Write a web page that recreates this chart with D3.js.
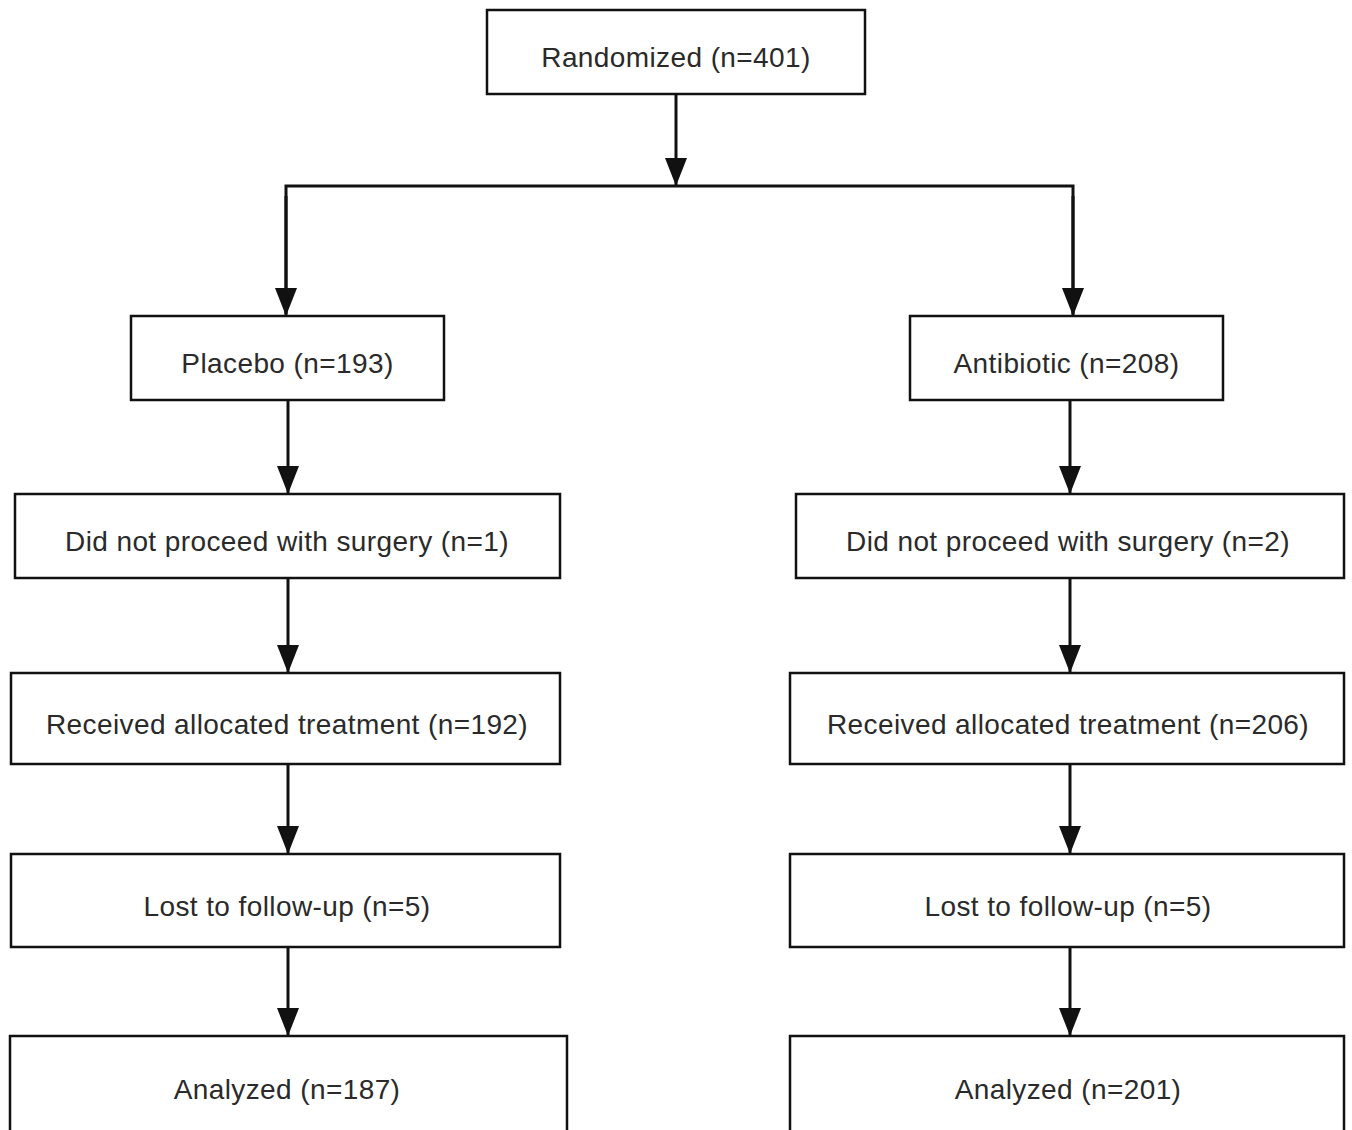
<!DOCTYPE html>
<html>
<head>
<meta charset="utf-8">
<script src="https://cdn.jsdelivr.net/npm/d3@7"></script>
<style>
  body { margin: 0; background: #fff; }
  svg { display: block; }
</style>
</head>
<body>
<svg></svg>
<script>
'use strict'

// data
const topLabel = 'Randomized'
const topN = 401
const armLabels = ['Placebo', 'Antibiotic']
const armN = [193, 208]
const stepLabels = ['Did not proceed with surgery', 'Received allocated treatment', 'Lost to follow-up', 'Analyzed']
const placeboN = [1, 192, 5, 187]
const antibioticN = [2, 206, 5, 201]

// layout
const width = 1352, height = 1130
const stroke = '#111'
const textColor = '#2a2a2a'
const fontSize = 28

// row tops / bottoms (row 0 = randomized, 1 = arms, 2..5 = steps)
const rowTop = [10, 316, 494, 673, 854, 1036]
const rowBottom = [94, 400, 578, 764, 947, 1132]
const splitY = 186

// box x extents per column, per row
const leftBox = [null, [131, 444], [15, 560], [11, 560], [11, 560], [10, 567]]
const rightBox = [null, [910, 1223], [796, 1344], [790, 1344], [790, 1344], [790, 1344]]
const topBox = [487, 865]
const colX = [288, 1070]
const arrowX = [[288, 1070], [288, 1070], [288, 1070], [288, 1070], [286, 1070]]

const svg = d3.select('svg')
  .attr('width', width)
  .attr('height', height)

svg.append('defs').append('marker')
  .attr('id', 'head')
  .attr('viewBox', '0 0 22 28')
  .attr('refX', 11)
  .attr('refY', 28)
  .attr('markerWidth', 22)
  .attr('markerHeight', 28)
  .attr('markerUnits', 'userSpaceOnUse')
  .attr('orient', 0)
  .append('path')
  .attr('d', 'M0,0 L22,0 L11,28 Z')
  .attr('fill', stroke)

const boxes = []
boxes.push({ x0: topBox[0], x1: topBox[1], y0: rowTop[0], y1: rowBottom[0], cx: 676, text: topLabel + ' (n=' + topN + ')' })
armLabels.forEach((l, i) => {
  const b = i === 0 ? leftBox[1] : rightBox[1]
  boxes.push({ x0: b[0], x1: b[1], y0: rowTop[1], y1: rowBottom[1], cx: (b[0] + b[1]) / 2, text: l + ' (n=' + armN[i] + ')' })
})
stepLabels.forEach((l, i) => {
  const r = i + 2
  boxes.push({ x0: leftBox[r][0], x1: leftBox[r][1], y0: rowTop[r], y1: rowBottom[r], cx: colX[0] - 1, text: l + ' (n=' + placeboN[i] + ')' })
  boxes.push({ x0: rightBox[r][0], x1: rightBox[r][1], y0: rowTop[r], y1: rowBottom[r], cx: colX[1] - 2, text: l + ' (n=' + antibioticN[i] + ')' })
})

const lines = svg.append('g')
  .attr('fill', 'none')
  .attr('stroke', stroke)
  .attr('stroke-width', 3)

// randomized -> split
lines.append('line')
  .attr('x1', 676).attr('y1', rowBottom[0])
  .attr('x2', 676).attr('y2', splitY)
  .attr('marker-end', 'url(#head)')

lines.append('path')
  .attr('d', 'M' + 286 + ',' + (rowTop[1] - 2) + 'V' + splitY + 'H' + 1073 + 'V' + (rowTop[1] - 2))

const splitArrows = [286, 1073]
splitArrows.forEach(x => {
  lines.append('line')
    .attr('x1', x).attr('y1', splitY + 10)
    .attr('x2', x).attr('y2', rowTop[1])
    .attr('marker-end', 'url(#head)')
})

for (let r = 1; r < rowTop.length - 1; r++) {
  arrowX[r - 1].forEach(x => {
    lines.append('line')
      .attr('x1', x).attr('y1', rowBottom[r])
      .attr('x2', x).attr('y2', rowTop[r + 1])
      .attr('marker-end', 'url(#head)')
  })
}

const g = svg.append('g')
  .selectAll('g')
  .data(boxes)
  .join('g')

g.append('rect')
  .attr('x', d => d.x0)
  .attr('y', d => d.y0)
  .attr('width', d => d.x1 - d.x0)
  .attr('height', d => d.y1 - d.y0)
  .attr('fill', '#fff')
  .attr('stroke', stroke)
  .attr('stroke-width', 2.5)

g.append('text')
  .attr('x', d => d.cx)
  .attr('y', d => (d.y0 + d.y1) / 2 + 15)
  .attr('text-anchor', 'middle')
  .attr('font-family', 'Liberation Sans, Arial, sans-serif')
  .attr('font-size', fontSize)
  .attr('letter-spacing', 0.4)
  .attr('fill', textColor)
  .text(d => d.text)
</script>
</body>
</html>
